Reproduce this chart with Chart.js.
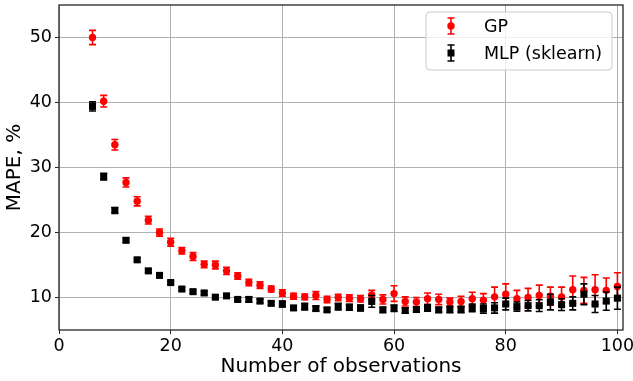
<!DOCTYPE html>
<html>
<head>
<meta charset="utf-8">
<script src="https://cdn.jsdelivr.net/npm/chart.js@4/dist/chart.umd.min.js"></script>
<style>
  html, body { margin: 0; padding: 0; background: #fff; }
  #wrap { width: 633px; height: 381px; }
</style>
</head>
<body>
<div id="wrap"><canvas id="c" width="633" height="381"></canvas></div>
<script>
// ---- data ----
const observations = [6,8,10,12,14,16,18,20,22,24,26,28,30,32,34,36,38,40,42,44,46,48,50,52,54,56,58,60,62,64,66,68,70,72,74,76,78,80,82,84,86,88,90,92,94,96,98,100];
const gpMean = [50.0,40.2,33.5,27.7,24.8,21.9,20.0,18.5,17.2,16.3,15.1,15.0,14.1,13.3,12.3,11.9,11.3,10.7,10.2,10.1,10.3,9.7,10.0,9.9,9.8,10.4,9.7,10.6,9.4,9.3,9.8,9.7,9.3,9.4,9.8,9.6,10.1,10.5,9.8,10.0,10.3,10.2,10.1,11.2,11.1,11.2,11.1,11.7];
const gpErr  = [1.1,0.9,0.8,0.7,0.7,0.6,0.55,0.6,0.5,0.6,0.5,0.6,0.55,0.5,0.5,0.5,0.45,0.5,0.45,0.45,0.6,0.5,0.5,0.5,0.5,0.7,0.7,1.2,0.7,0.7,0.9,0.8,0.6,0.8,1.0,1.0,1.5,1.6,1.3,1.4,1.6,1.4,1.5,2.1,2.0,2.3,1.9,2.1];
const mlpMean = [39.4,28.6,23.4,18.8,15.8,14.1,13.4,12.3,11.3,10.9,10.7,10.05,10.25,9.7,9.7,9.45,9.1,9.0,8.4,8.6,8.3,8.1,8.6,8.5,8.4,9.4,8.1,8.35,8.0,8.15,8.4,8.1,8.15,8.15,8.4,8.3,8.4,9.0,8.6,8.75,8.75,9.3,8.9,9.1,10.5,9.0,9.45,9.9];
const mlpErr  = [0.7,0.5,0.45,0.3,0.25,0.25,0.25,0.25,0.25,0.25,0.25,0.25,0.3,0.25,0.4,0.3,0.3,0.45,0.3,0.5,0.35,0.3,0.5,0.45,0.45,0.9,0.4,0.5,0.4,0.4,0.5,0.4,0.5,0.5,0.6,0.7,0.8,0.9,0.7,0.8,0.9,1.2,0.9,1.0,1.6,1.3,1.4,1.7];
const seriesNames = ['GP', 'MLP (sklearn)'];
const xTicks = [0,20,40,60,80,100];
const yTicks = [10,20,30,40,50];
const xTitle = 'Number of observations';
const yTitle = 'MAPE, %';

const FONT = 'DejaVu Sans';
const RED = '#ff0000';
const BLACK = '#000000';

function pts(xs, ys) { return xs.map((x, i) => ({x: x, y: ys[i]})); }
const errs = [gpErr, mlpErr];

function drawErrorBar(ctx, x, yTop, yBot, color) {
  const cap = 3.5;
  ctx.save();
  ctx.strokeStyle = color;
  ctx.lineWidth = 1.6;
  ctx.beginPath();
  ctx.moveTo(x, yTop); ctx.lineTo(x, yBot);
  ctx.moveTo(x - cap, yTop); ctx.lineTo(x + cap, yTop);
  ctx.moveTo(x - cap, yBot); ctx.lineTo(x + cap, yBot);
  ctx.stroke();
  ctx.restore();
}

const errorBarPlugin = {
  id: 'errorBars',
  beforeDatasetDraw(chart, args) {
    const meta = args.meta;
    const ds = chart.data.datasets[meta.index];
    const e = errs[meta.index];
    const xs = chart.scales.x, ys = chart.scales.y;
    const ctx = chart.ctx;
    const a = chart.chartArea;
    ctx.save();
    ctx.beginPath();
    ctx.rect(a.left, a.top, a.right - a.left, a.bottom - a.top);
    ctx.clip();
    ds.data.forEach((p, i) => {
      const px = xs.getPixelForValue(p.x);
      drawErrorBar(ctx, px, ys.getPixelForValue(p.y + e[i]), ys.getPixelForValue(p.y - e[i]), ds.borderColor);
    });
    ctx.restore();
  }
};

const framePlugin = {
  id: 'frame',
  afterDatasetsDraw(chart) {
    const a = chart.chartArea, ctx = chart.ctx;
    ctx.save();
    ctx.strokeStyle = '#262626';
    ctx.lineWidth = 1.3;
    ctx.strokeRect(a.left, a.top, a.right - a.left, a.bottom - a.top);
    ctx.restore();
  }
};

const legendPlugin = {
  id: 'mplLegend',
  afterDraw(chart) {
    const ctx = chart.ctx;
    const bx = 426, by = 12, bw = 186, bh = 58, r = 4;
    ctx.save();
    ctx.beginPath();
    ctx.moveTo(bx + r, by);
    ctx.arcTo(bx + bw, by, bx + bw, by + bh, r);
    ctx.arcTo(bx + bw, by + bh, bx, by + bh, r);
    ctx.arcTo(bx, by + bh, bx, by, r);
    ctx.arcTo(bx, by, bx + bw, by, r);
    ctx.closePath();
    ctx.fillStyle = 'rgba(255,255,255,0.8)';
    ctx.fill();
    ctx.strokeStyle = '#cccccc';
    ctx.lineWidth = 1;
    ctx.stroke();
    const rows = [26, 53];
    const colors = [RED, BLACK];
    rows.forEach((yy, i) => {
      const mx = 451;
      drawErrorBar(ctx, mx, yy - 8, yy + 8, colors[i]);
      ctx.fillStyle = colors[i];
      if (i === 0) {
        ctx.beginPath(); ctx.arc(mx, yy, 3.7, 0, Math.PI * 2); ctx.fill();
      } else {
        ctx.fillRect(mx - 3.5, yy - 3.5, 7, 7);
      }
      ctx.fillStyle = '#000';
      ctx.font = '17.5px "' + FONT + '"';
      ctx.textBaseline = 'middle';
      ctx.textAlign = 'left';
      ctx.fillText(seriesNames[i], 484, yy + 1);
    });
    ctx.restore();
  }
};

const chart = new Chart(document.getElementById('c'), {
  type: 'scatter',
  data: {
    datasets: [
      { label: seriesNames[0], data: pts(observations, gpMean), borderColor: RED, backgroundColor: RED,
        pointStyle: 'circle', pointRadius: 3.7, pointBorderWidth: 0, pointHoverRadius: 3.7, order: 1 },
      { label: seriesNames[1], data: pts(observations, mlpMean), borderColor: BLACK, backgroundColor: BLACK,
        pointStyle: 'rect', pointRadius: 5, pointBorderWidth: 0, pointHoverRadius: 5, order: 0 }
    ]
  },
  options: {
    responsive: false,
    animation: false,
    events: [],
    layout: { padding: { top: 3, right: 10, left: 0, bottom: 0 } },
    plugins: { legend: { display: false }, tooltip: { enabled: false } },
    scales: {
      x: {
        type: 'linear', min: 0, max: 101,
        afterBuildTicks: s => { s.ticks = xTicks.map(v => ({value: v})); },
        afterFit: s => { s.height = 51; s.paddingLeft = 0; s.paddingRight = 0; },
        border: { display: false },
        grid: { color: '#b0b0b0', lineWidth: 1, drawTicks: true, tickLength: 4, tickColor: '#262626' },
        ticks: { color: '#000', font: { family: FONT, size: 17.5 }, padding: 2, maxRotation: 0 },
        title: { display: true, text: xTitle, color: '#000', font: { family: FONT, size: 20 }, padding: { top: 0, bottom: 2 } }
      },
      y: {
        type: 'linear', min: 5, max: 55,
        afterBuildTicks: s => { s.ticks = yTicks.map(v => ({value: v})); },
        afterFit: s => { s.width = 59; s.paddingTop = 0; s.paddingBottom = 0; },
        border: { display: false },
        grid: { color: '#b0b0b0', lineWidth: 1, drawTicks: true, tickLength: 4, tickColor: '#262626' },
        ticks: { color: '#000', font: { family: FONT, size: 17.5 }, padding: 3 },
        title: { display: true, text: yTitle, color: '#000', font: { family: FONT, size: 20 }, padding: { top: 3, bottom: 0 } }
      }
    }
  },
  plugins: [errorBarPlugin, framePlugin, legendPlugin]
});
</script>
</body>
</html>
